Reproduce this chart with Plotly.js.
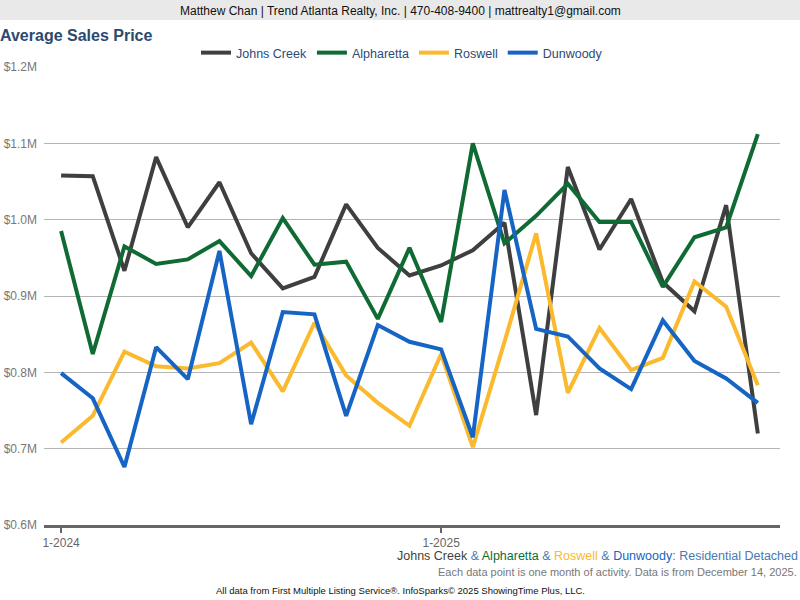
<!DOCTYPE html>
<html>
<head>
<meta charset="utf-8">
<script src="https://cdn.plot.ly/plotly-3.0.1.min.js"></script>
<style>html,body{margin:0;padding:0;background:#fff;}#chart{width:800px;height:600px;}</style>
</head>
<body>
<div id="chart"></div>
<script>
// Months Jan 2024 .. Nov 2025
const months = ["1-2024","2-2024","3-2024","4-2024","5-2024","6-2024","7-2024","8-2024","9-2024","10-2024","11-2024","12-2024",
                "1-2025","2-2025","3-2025","4-2025","5-2025","6-2025","7-2025","8-2025","9-2025","10-2025","11-2025"];
const johnsCreek = [1058000,1057000,933000,1082000,990000,1049000,956000,910000,925000,1020000,963000,927000,
                    940000,960000,996000,744000,1069000,961000,1027000,918000,880000,1019000,720000];
const alpharetta = [985000,824000,965000,942000,948000,972000,926000,1002000,941000,945000,870000,963000,
                    866000,1100000,969000,1005000,1047000,997000,997000,912000,977000,990000,1112000];
const roswell    = [708000,743000,827000,808000,805000,812000,839000,775000,865000,796000,760000,730000,
                    824000,702000,840000,982000,773000,858000,803000,819000,919000,886000,783000];
const dunwoody   = [799000,766000,676000,833000,791000,959000,732000,879000,876000,743000,862000,840000,
                    830000,715000,1039000,857000,847000,805000,778000,868000,815000,792000,760000];
const yTickVals = [600000,700000,800000,900000,1000000,1100000,1200000];
const yTickText = ["$0.6M","$0.7M","$0.8M","$0.9M","$1.0M","$1.1M","$1.2M"];
const xTickMonths = ["1-2024","1-2025"];

const seriesNames = ["Johns Creek","Alpharetta","Roswell","Dunwoody"];
const seriesColors = ["#3f3f3f","#0f6b33","#fbb92e","#1664c4"];
const seriesData = [johnsCreek, alpharetta, roswell, dunwoody];
const xIdx = months.map((m,i)=>i);

const traces = seriesData.map((d,k)=>({
  x: xIdx, y: d, type:'scatter', mode:'lines', name: seriesNames[k],
  line:{color: seriesColors[k], width:4}, hoverinfo:'skip'
}));

const L=44, T=67, PW=736, PH=458;
const px = v => (v - L)/PW;
const py = v => (T + PH - v)/PH;

const layout = {
  width:800, height:600,
  margin:{l:L, r:800-L-PW, t:T, b:600-T-PH, pad:0},
  paper_bgcolor:'#ffffff', plot_bgcolor:'#ffffff',
  font:{family:'Arial, Liberation Sans, sans-serif', color:'#333'},
  showlegend:true,
  legend:{orientation:'h', x:px(402), xanchor:'center', y:py(53), yanchor:'middle',
          font:{size:12.5, color:'#2d4a78'}, itemwidth:30, tracegroupgap:0, bgcolor:'rgba(0,0,0,0)'},
  title:{text:'<b>Average Sales Price</b>', x:0, xref:'container', xanchor:'left',
         y:1-35/600, yref:'container', yanchor:'middle', font:{size:16, color:'#2a4a70'}},
  xaxis:{range:[-0.54, 22.7], tickvals: xTickMonths.map(m=>months.indexOf(m)), ticktext: xTickMonths,
         showgrid:false, zeroline:false, showline:true, linecolor:'#666', linewidth:3,
         ticks:'outside', ticklen:5, tickwidth:2, tickcolor:'#666',
         tickfont:{size:12, color:'#666'}, fixedrange:true},
  yaxis:{range:[600000,1200000], tickvals:yTickVals, ticktext:yTickText,
         showgrid:true, gridcolor:'#b4b4b4', gridwidth:1, zeroline:false, showline:false,
         ticks:'', tickfont:{size:12, color:'#777'}, ticklabelstandoff:6, fixedrange:true},
  shapes:[{type:'rect', xref:'paper', yref:'paper', x0:px(0), x1:px(800), y0:py(20), y1:py(0),
           fillcolor:'#e9e9e9', line:{width:0}, layer:'below'}],
  annotations:[
    {text:'Matthew Chan | Trend Atlanta Realty, Inc. | 470-408-9400 | mattrealty1@gmail.com',
     xref:'paper', yref:'paper', x:px(400), y:py(11), xanchor:'center', yanchor:'middle',
     showarrow:false, font:{size:12, color:'#111'}},
    {text:'<span style="color:#3f3f3f">Johns Creek</span><span style="color:#4a78b0"> & </span><span style="color:#0f6b33">Alpharetta</span><span style="color:#4a78b0"> & </span><span style="color:#fbb92e">Roswell</span><span style="color:#4a78b0"> & </span><span style="color:#1664c4">Dunwoody</span><span style="color:#4a78b0">: Residential Detached</span>',
     xref:'paper', yref:'paper', x:px(800), y:py(555.5), xanchor:'right', yanchor:'middle',
     showarrow:false, font:{size:12.5}},
    {text:'Each data point is one month of activity. Data is from December 14, 2025.',
     xref:'paper', yref:'paper', x:px(799), y:py(572), xanchor:'right', yanchor:'middle',
     showarrow:false, font:{size:11, color:'#777'}},
    {text:'All data from First Multiple Listing Service®. InfoSparks© 2025 ShowingTime Plus, LLC.',
     xref:'paper', yref:'paper', x:px(400), y:py(590), xanchor:'center', yanchor:'middle',
     showarrow:false, font:{size:9.5, color:'#111'}}
  ]
};

Plotly.newPlot('chart', traces, layout, {staticPlot:true, displayModeBar:false});
</script>
</body>
</html>
